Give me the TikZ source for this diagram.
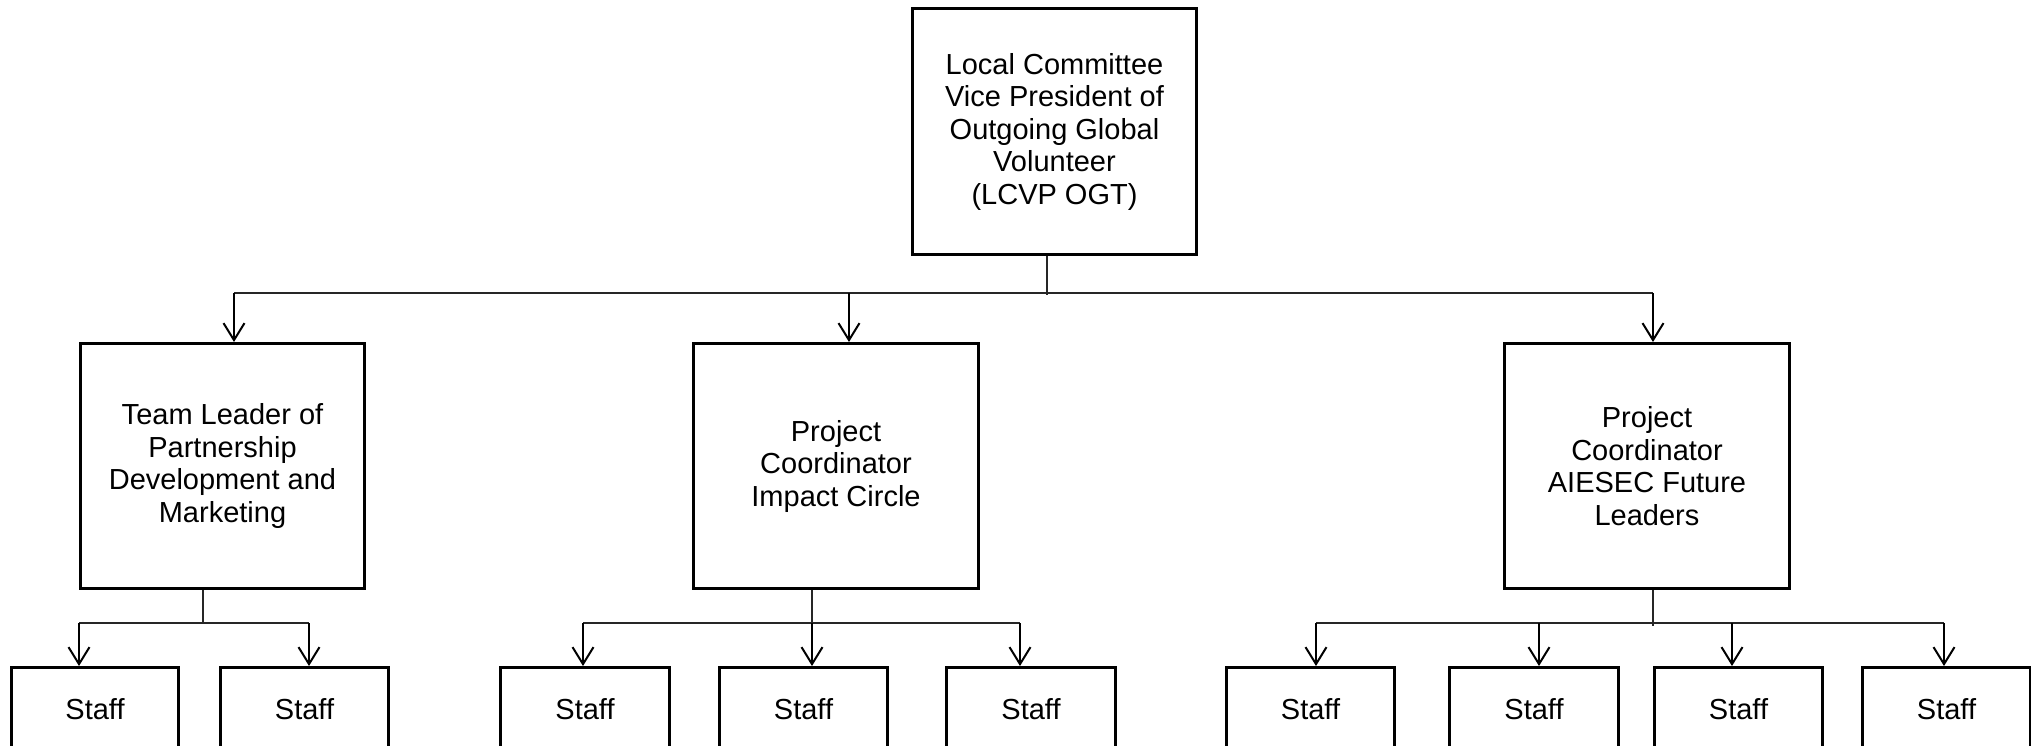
\documentclass[tikz,border=0pt]{standalone}
\usepackage{fontspec}
\setmainfont{Liberation Sans}
\usetikzlibrary{arrows.meta}
\begin{document}
\begin{tikzpicture}[x=1pt,y=-1pt,
  box/.style={draw=black,line width=3pt,anchor=north west,inner sep=0pt,align=center,
    font=\fontsize{29}{32.5}\selectfont},
  bigbox/.style={box,minimum height=246pt},
  staffbox/.style={box,minimum height=84pt},
  bus/.style={draw=black!85,line width=1.8pt},
  stem/.style={draw=black!85,line width=1.1pt},
  arr/.style={draw=black,line width=2pt,-{Straight Barb[length=17pt,width=21pt,line width=2pt]}}
]
\clip (0,0) rectangle (2031,745);
\fill[white] (0,0) rectangle (2031,745);
% top
\node[bigbox,minimum width=284pt] (top) at (911,7) {Local Committee\\Vice President of\\Outgoing Global\\Volunteer\\(LCVP OGT)};
% second level
\node[bigbox,minimum width=284pt,minimum height=245pt] (b1) at (79,342) {Team Leader of\\Partnership\\Development and\\Marketing};
\node[bigbox,minimum width=285pt,minimum height=245pt] (b2) at (692,342) {Project\\Coordinator\\Impact Circle};
\node[bigbox,minimum width=285pt,minimum height=245pt] (b3) at (1503,342) {Project\\Coordinator\\AIESEC Future\\Leaders};
% staff
\node[staffbox,minimum width=167pt] (s1) at (10,666) {Staff};
\node[staffbox,minimum width=168pt] (s2) at (219,666) {Staff};
\node[staffbox,minimum width=169pt] (s3) at (499,666) {Staff};
\node[staffbox,minimum width=168pt] (s4) at (718,666) {Staff};
\node[staffbox,minimum width=169pt] (s5) at (945,666) {Staff};
\node[staffbox,minimum width=168pt] (s6) at (1225,666) {Staff};
\node[staffbox,minimum width=169pt] (s7) at (1448,666) {Staff};
\node[staffbox,minimum width=168pt] (s8) at (1653,666) {Staff};
\node[staffbox,minimum width=168pt] (s9) at (1861,666) {Staff};
% junction coordinates
\coordinate (t0) at (1047,295);
\coordinate (ta) at (234,293);
\coordinate (tb) at (849,293);
\coordinate (tc) at (1653,293);
\coordinate (a0) at (203,623);
\coordinate (a1) at (79,623);
\coordinate (a2) at (309,623);
\coordinate (c0) at (812,623);
\coordinate (c1) at (583,623);
\coordinate (c2) at (812,623);
\coordinate (c3) at (1020,623);
\coordinate (d0) at (1653,626);
\coordinate (d1) at (1316,623);
\coordinate (d2) at (1539,623);
\coordinate (d3) at (1732,623);
\coordinate (d4) at (1944,623);
% top level connectors
\draw[stem] (t0 |- top.south) -- (t0);
\draw[bus] (ta) -- (tc);
\draw[arr] (ta) -- (ta |- b1.north);
\draw[arr] (tb) -- (tb |- b2.north);
\draw[arr] (tc) -- (tc |- b3.north);
% b1
\draw[stem] (a0 |- b1.south) -- (a0);
\draw[bus] (a1) -- (a2);
\draw[arr] (a1) -- (a1 |- s1.north);
\draw[arr] (a2) -- (a2 |- s2.north);
% b2
\draw[stem] (c0 |- b2.south) -- (c0);
\draw[bus] (c1) -- (c3);
\draw[arr] (c1) -- (c1 |- s3.north);
\draw[arr] (c2) -- (c2 |- s4.north);
\draw[arr] (c3) -- (c3 |- s5.north);
% b3
\draw[stem] (d0 |- b3.south) -- (d0);
\draw[bus] (d1) -- (d4);
\draw[arr] (d1) -- (d1 |- s6.north);
\draw[arr] (d2) -- (d2 |- s7.north);
\draw[arr] (d3) -- (d3 |- s8.north);
\draw[arr] (d4) -- (d4 |- s9.north);
\end{tikzpicture}
\end{document}
